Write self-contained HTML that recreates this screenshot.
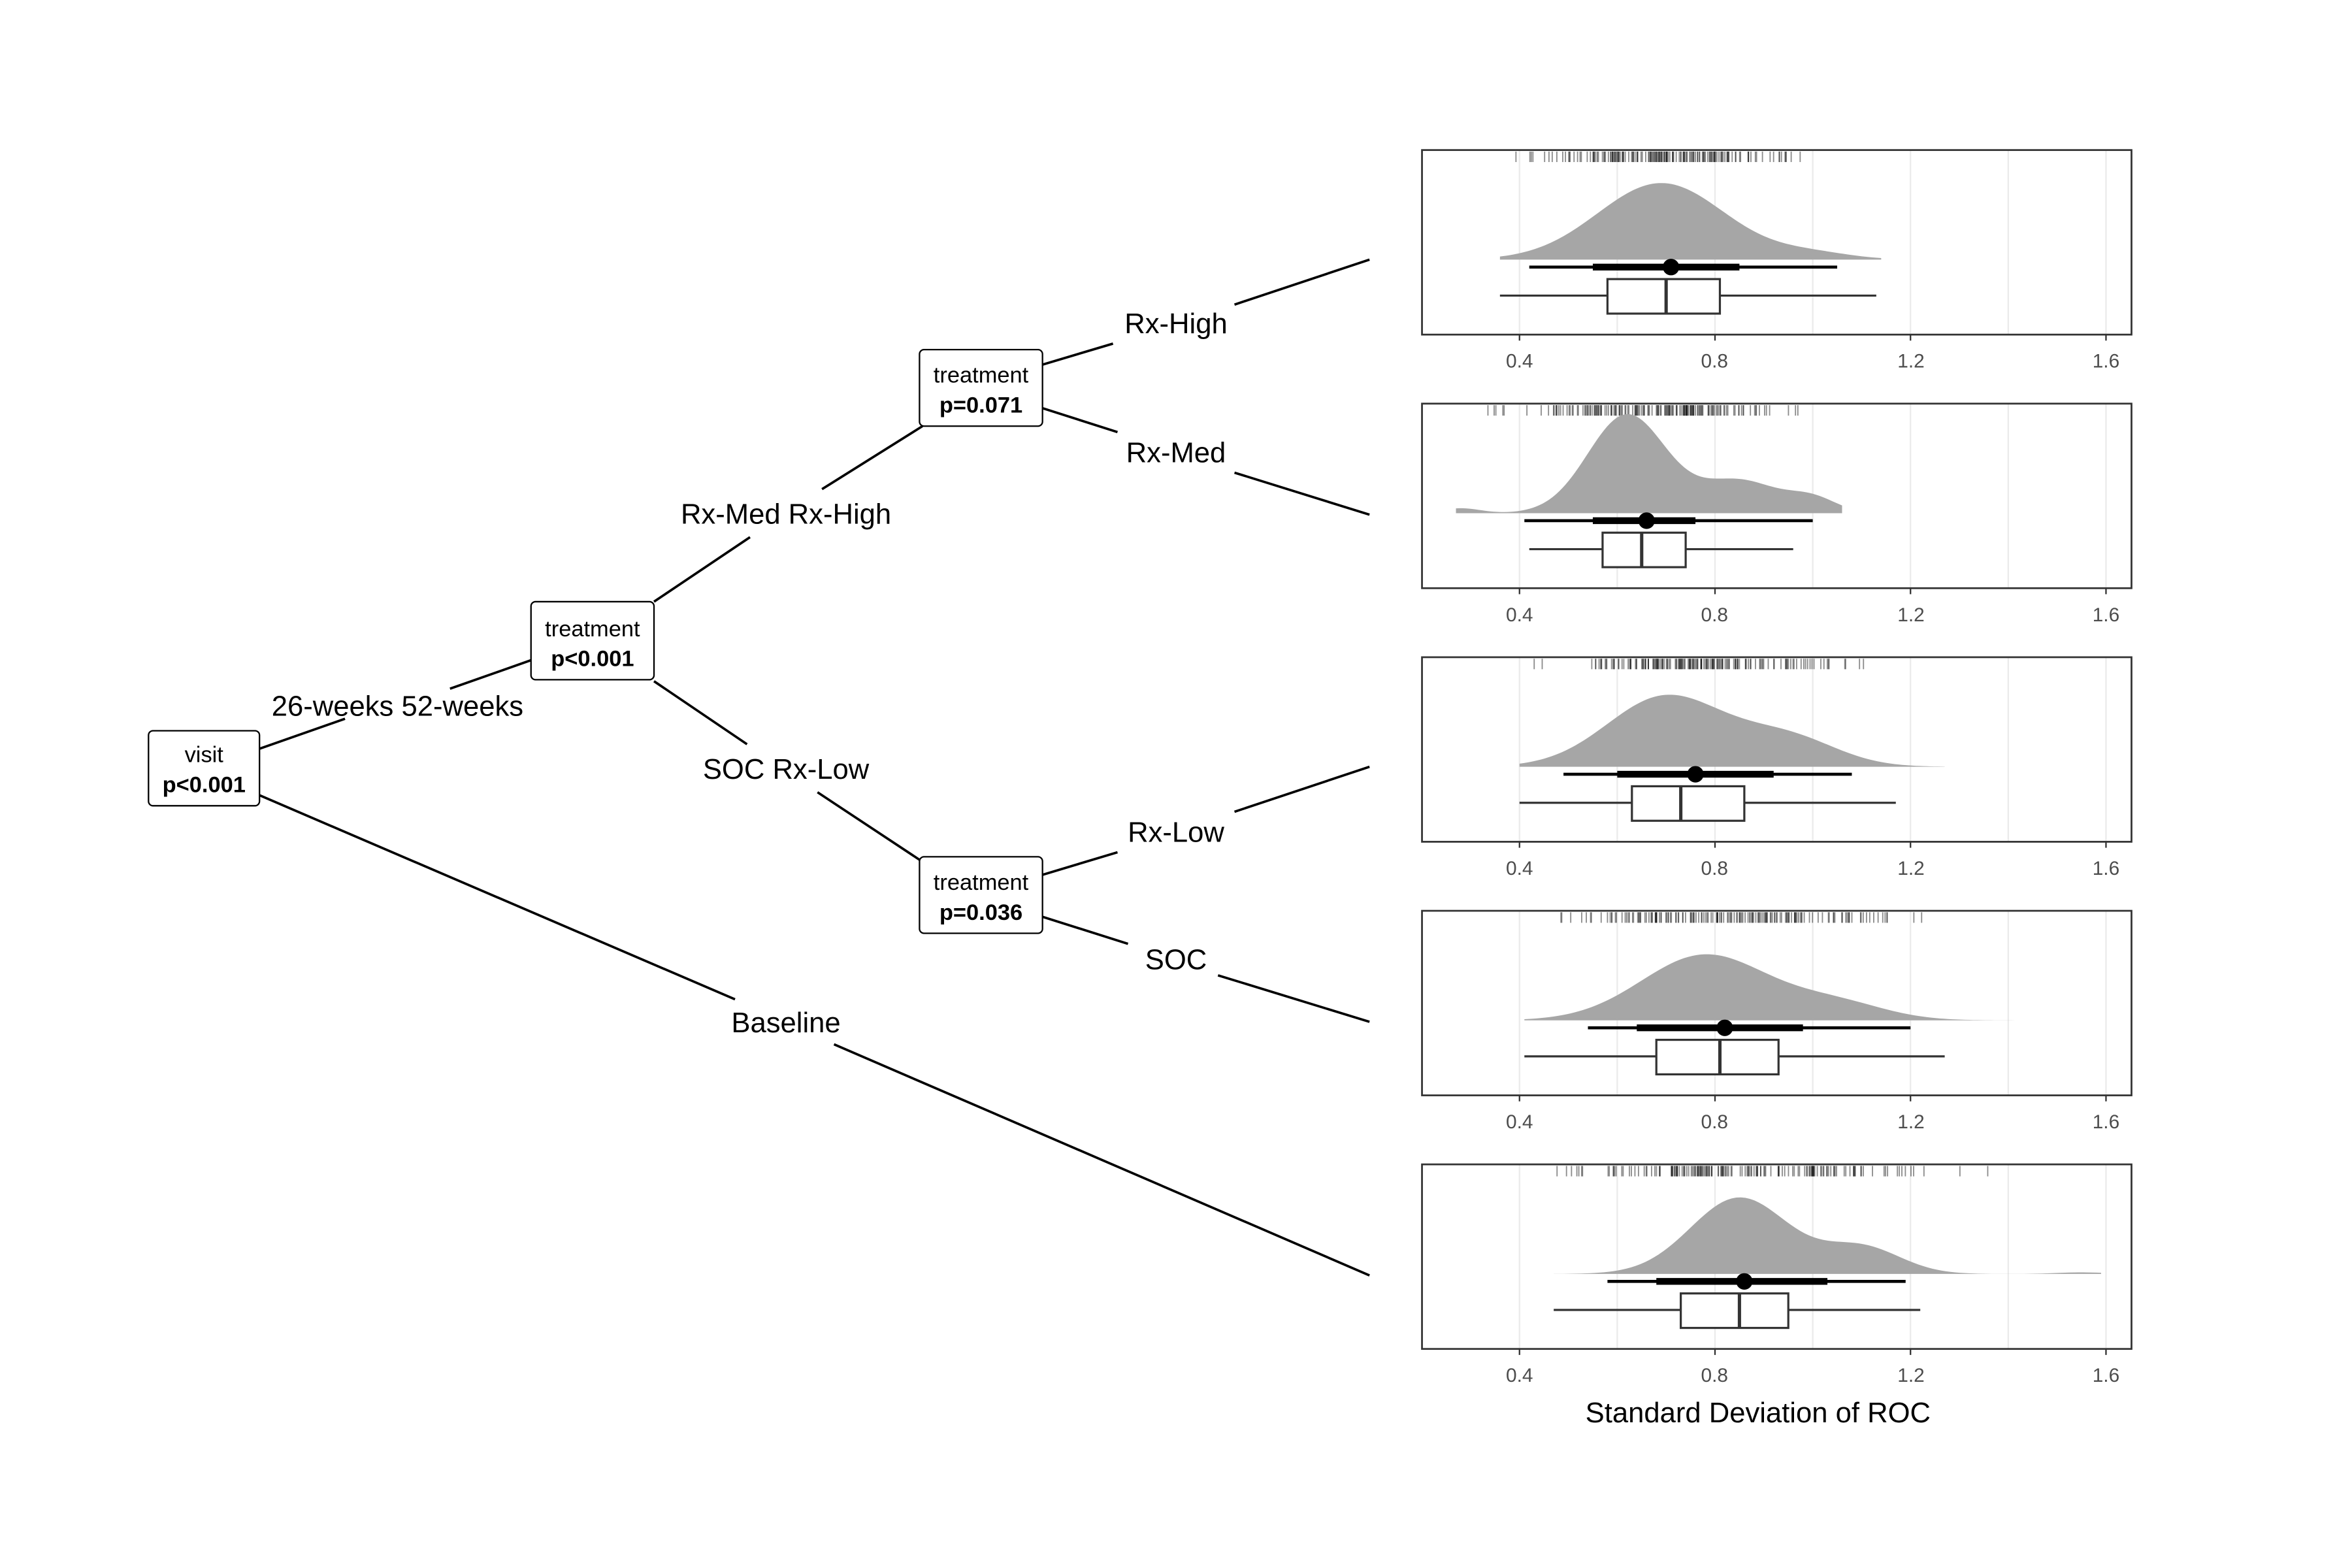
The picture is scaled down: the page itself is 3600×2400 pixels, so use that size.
<!DOCTYPE html>
<html><head><meta charset="utf-8"><style>
html,body{margin:0;padding:0;background:#fff;width:3600px;height:2400px;overflow:hidden;}
svg{display:block;position:absolute;left:0;top:0;}
text{font-family:"Liberation Sans",Arial,sans-serif;}
.tk{font-size:13px;fill:#4d4d4d;text-anchor:middle;}
.lb{font-size:19px;fill:#000;text-anchor:middle;}
.nd{font-size:15px;fill:#000;text-anchor:middle;}
.ndb{font-size:15px;fill:#000;text-anchor:middle;font-weight:bold;}
</style></head><body>
<svg id="s" width="3600" height="2400" viewBox="0 0 1568 1045" preserveAspectRatio="none" xmlns="http://www.w3.org/2000/svg">
<rect x="0" y="0" width="1568" height="1045" fill="#fff"/>
<g id="panels"></g>
<g stroke="#000" stroke-width="1.6" fill="none">
<line x1="173" y1="499" x2="230" y2="479"/><line x1="300" y1="459" x2="354" y2="440"/>
<line x1="173" y1="530" x2="490" y2="666"/><line x1="556" y1="696" x2="913" y2="850"/>
<line x1="436" y1="401" x2="500" y2="358"/><line x1="548" y1="326" x2="615" y2="284"/>
<line x1="436" y1="454" x2="498" y2="496"/><line x1="545" y1="528" x2="613" y2="573"/>
<line x1="695" y1="243" x2="742" y2="229"/><line x1="823" y1="203" x2="913" y2="173"/>
<line x1="695" y1="272" x2="745" y2="288"/><line x1="823" y1="315" x2="913" y2="343"/>
<line x1="695" y1="583" x2="745" y2="568"/><line x1="823" y1="541" x2="913" y2="511"/>
<line x1="695" y1="611" x2="752" y2="629"/><line x1="812" y1="650" x2="913" y2="681"/>
</g>
<g fill="#fff" stroke="#000" stroke-width="1">
<rect x="99" y="487" width="74" height="50" rx="3"/>
<rect x="354" y="401" width="82" height="52" rx="3"/>
<rect x="613" y="233" width="82" height="51" rx="3"/>
<rect x="613" y="571" width="82" height="51" rx="3"/>
</g>
<text class="nd" x="136" y="508">visit</text><text class="ndb" x="136" y="528">p&lt;0.001</text>
<text class="nd" x="395" y="424">treatment</text><text class="ndb" x="395" y="444">p&lt;0.001</text>
<text class="nd" x="654" y="255">treatment</text><text class="ndb" x="654" y="275">p=0.071</text>
<text class="nd" x="654" y="593">treatment</text><text class="ndb" x="654" y="613">p=0.036</text>
<text class="lb" x="265" y="477">26-weeks 52-weeks</text>
<text class="lb" x="524" y="349">Rx-Med Rx-High</text>
<text class="lb" x="524" y="519">SOC Rx-Low</text>
<text class="lb" x="524" y="688">Baseline</text>
<text class="lb" x="784" y="222">Rx-High</text>
<text class="lb" x="784" y="308">Rx-Med</text>
<text class="lb" x="784" y="561">Rx-Low</text>
<text class="lb" x="784" y="646">SOC</text>
<text class="tk" x="1013" y="245">0.4</text><text class="tk" x="1143" y="245">0.8</text><text class="tk" x="1274" y="245">1.2</text><text class="tk" x="1404" y="245">1.6</text>
<text class="tk" x="1013" y="414">0.4</text><text class="tk" x="1143" y="414">0.8</text><text class="tk" x="1274" y="414">1.2</text><text class="tk" x="1404" y="414">1.6</text>
<text class="tk" x="1013" y="583">0.4</text><text class="tk" x="1143" y="583">0.8</text><text class="tk" x="1274" y="583">1.2</text><text class="tk" x="1404" y="583">1.6</text>
<text class="tk" x="1013" y="752">0.4</text><text class="tk" x="1143" y="752">0.8</text><text class="tk" x="1274" y="752">1.2</text><text class="tk" x="1404" y="752">1.6</text>
<text class="tk" x="1013" y="921">0.4</text><text class="tk" x="1143" y="921">0.8</text><text class="tk" x="1274" y="921">1.2</text><text class="tk" x="1404" y="921">1.6</text>
<text class="lb" x="1172" y="948">Standard Deviation of ROC</text>
</svg>
<script>
(function(){
var NS="http://www.w3.org/2000/svg",g=document.getElementById("panels");
function el(n,a){var e=document.createElementNS(NS,n);for(var k in a)e.setAttribute(k,a[k]);g.appendChild(e);return e;}
function X(v){return 1013+(v-0.4)*325.83;}
var P=[
{t:100,lo:0.36,hi:1.14,h:51,c:[[0.69,0.13,1],[1.0,0.08,0.08]],ci:[0.42,1.05],th:[0.55,0.85],d:0.71,b:[0.36,0.58,0.70,0.81,1.13],seed:3},
{t:269,lo:0.27,hi:1.06,h:66,c:[[0.62,0.08,1],[0.85,0.08,0.33],[1.0,0.05,0.14],[0.28,0.04,0.05]],ci:[0.41,1.0],th:[0.55,0.76],d:0.66,b:[0.42,0.57,0.65,0.74,0.96],seed:7},
{t:438,lo:0.40,hi:1.27,h:48,c:[[0.70,0.12,1],[0.95,0.1,0.4]],ci:[0.49,1.08],th:[0.60,0.92],d:0.76,b:[0.40,0.63,0.73,0.86,1.17],seed:11},
{t:607,lo:0.41,hi:1.44,h:44,c:[[0.78,0.13,1],[1.05,0.1,0.25]],ci:[0.54,1.20],th:[0.64,0.98],d:0.82,b:[0.41,0.68,0.81,0.93,1.27],seed:13},
{t:776,lo:0.47,hi:1.59,h:51,c:[[0.85,0.1,1],[1.1,0.08,0.35],[1.55,0.05,0.02]],ci:[0.58,1.19],th:[0.68,1.03],d:0.86,b:[0.47,0.73,0.85,0.95,1.22],seed:17}
];
P.forEach(function(p){
var T=p.t;
[0.4,0.6,0.8,1.0,1.2,1.4,1.6].forEach(function(v){el("line",{x1:X(v),x2:X(v),y1:T,y2:T+123,stroke:"#ebebeb","stroke-width":1});});
var s=p.seed;function r(){s=(s*16807)%2147483647;return s/2147483647;}
for(var i=0;i<170;i++){var u=0;for(var j=0;j<3;j++)u+=r();u=(u/3-0.5);var v=p.d+u*(p.hi-p.lo)*0.95;if(v<p.lo||v>p.hi)continue;
el("line",{x1:X(v),x2:X(v),y1:T+1,y2:T+8,stroke:"#000","stroke-opacity":0.45,"stroke-width":0.8});}
var mx=0,vals=[];
for(var k=0;k<=120;k++){var v=p.lo+(p.hi-p.lo)*k/120,f=0;p.c.forEach(function(c){f+=c[2]*Math.exp(-0.5*Math.pow((v-c[0])/c[1],2));});vals.push([v,f]);if(f>mx)mx=f;}
var base=T+73,d="M"+X(p.lo)+","+base;
vals.forEach(function(a){d+=" L"+X(a[0]).toFixed(2)+","+(base-a[1]/mx*p.h).toFixed(2);});
d+=" L"+X(p.hi)+","+base+" Z";
el("path",{d:d,fill:"#a6a6a6"});
el("line",{x1:X(p.ci[0]),x2:X(p.ci[1]),y1:T+78,y2:T+78,stroke:"#000","stroke-width":2});
el("line",{x1:X(p.th[0]),x2:X(p.th[1]),y1:T+78,y2:T+78,stroke:"#000","stroke-width":4.5});
el("circle",{cx:X(p.d),cy:T+78,r:5.5,fill:"#000"});
var b=p.b;
el("line",{x1:X(b[0]),x2:X(b[4]),y1:T+97,y2:T+97,stroke:"#333","stroke-width":1.4});
el("rect",{x:X(b[1]),y:T+86,width:X(b[3])-X(b[1]),height:23,fill:"#fff",stroke:"#333","stroke-width":1.4});
el("line",{x1:X(b[2]),x2:X(b[2]),y1:T+86,y2:T+109,stroke:"#333","stroke-width":2.2});
el("rect",{x:948,y:T,width:473,height:123,fill:"none",stroke:"#333","stroke-width":1.2});
[0.4,0.8,1.2,1.6].forEach(function(v){el("line",{x1:X(v),x2:X(v),y1:T+123,y2:T+127,stroke:"#333","stroke-width":1});});
});
})();
</script>
</body></html>
